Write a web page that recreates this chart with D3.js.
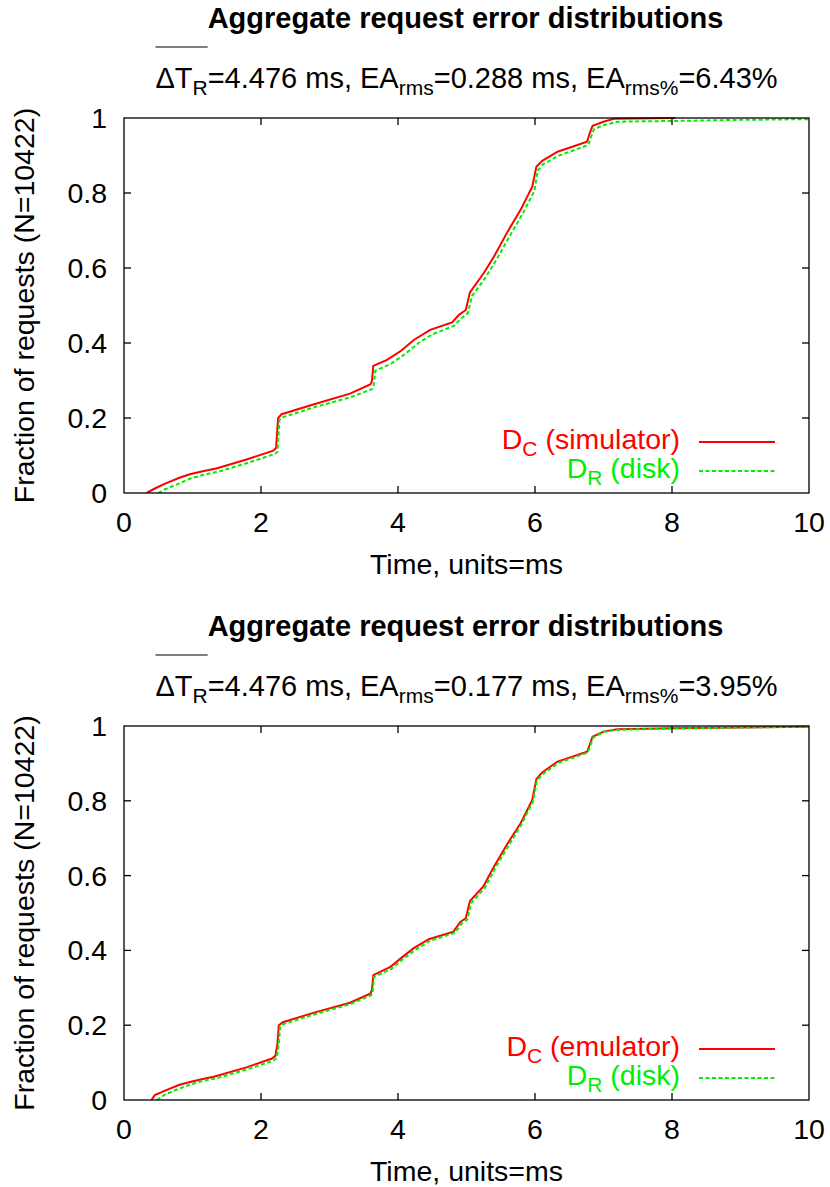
<!DOCTYPE html>
<html><head><meta charset="utf-8">
<script src="https://cdn.jsdelivr.net/npm/d3@7"></script>
<style>
body{margin:0;background:#fff;}
text{font-family:"Liberation Sans",Arial,Helvetica,sans-serif;}
</style></head>
<body><svg id="chart" width="830" height="1187"></svg>
<script>
// ---- data ----
const xTicks = [0, 2, 4, 6, 8, 10];
const yTicks = [0, 0.2, 0.4, 0.6, 0.8, 1];
const xTickLabels = ["0", "2", "4", "6", "8", "10"];
const yTickLabels = ["0", "0.2", "0.4", "0.6", "0.8", "1"];
const chartTitle = "Aggregate request error distributions";
const xAxisTitle = "Time, units=ms";
const yAxisTitle = "Fraction of requests (N=10422)";

const meanDelta = "4.476";
const topEArms = "0.288", topEArmsPct = "6.43";
const botEArms = "0.177", botEArmsPct = "3.95";

// top panel: simulator vs disk
const simX = [0.33,0.45,0.6,0.8,0.96,1.15,1.36,1.8,2.18,2.22,2.25,2.3,2.8,3.3,3.6,3.62,3.64,3.84,4.05,4.23,4.47,4.79,4.89,4.99,5.05,5.25,5.40,5.60,5.79,5.96,6.02,6.1,6.33,6.76,6.80,6.84,7.0,7.15,8.05];
const simY = [0,0.012,0.025,0.04,0.05,0.058,0.066,0.09,0.113,0.12,0.2,0.21,0.238,0.265,0.29,0.30,0.339,0.355,0.38,0.408,0.435,0.455,0.475,0.488,0.535,0.586,0.63,0.697,0.755,0.817,0.87,0.885,0.91,0.937,0.96,0.979,0.99,0.998,1.0];
const diskTopX = [0.5,0.6,0.8,0.96,1.15,1.4,1.8,2.2,2.24,2.27,2.32,2.8,3.3,3.62,3.64,3.67,3.9,4.1,4.3,4.5,4.82,4.92,5.02,5.08,5.28,5.43,5.63,5.82,5.99,6.04,6.12,6.35,6.78,6.82,6.86,7.0,7.2,7.5,8.0,9.0,10];
const diskTopY = [0,0.01,0.025,0.038,0.048,0.058,0.08,0.104,0.11,0.195,0.202,0.23,0.255,0.277,0.28,0.326,0.345,0.37,0.4,0.423,0.446,0.465,0.48,0.525,0.575,0.62,0.685,0.745,0.805,0.86,0.877,0.9,0.928,0.95,0.97,0.981,0.99,0.991,0.992,0.995,0.997];

// bottom panel: emulator vs disk
const emuX = [0.40,0.45,0.6,0.8,0.92,1.1,1.31,1.8,2.16,2.21,2.24,2.26,2.32,2.8,3.3,3.60,3.62,3.64,3.89,4.05,4.23,4.45,4.81,4.91,4.99,5.05,5.25,5.40,5.60,5.79,5.96,6.02,6.1,6.33,6.76,6.80,6.84,7.0,7.2,8.0,9.0,10];
const emuY = [0,0.013,0.025,0.04,0.046,0.054,0.062,0.088,0.111,0.118,0.15,0.2,0.208,0.235,0.26,0.285,0.295,0.334,0.356,0.38,0.406,0.43,0.45,0.476,0.486,0.532,0.572,0.624,0.686,0.74,0.802,0.858,0.875,0.905,0.931,0.95,0.971,0.985,0.991,0.994,0.996,0.998];
const diskBotX = [0.48,0.6,0.8,0.95,1.1,1.35,1.8,2.18,2.23,2.26,2.28,2.34,2.8,3.3,3.61,3.63,3.65,3.9,4.07,4.25,4.47,4.83,4.93,5.01,5.07,5.27,5.42,5.62,5.80,5.97,6.03,6.12,6.35,6.77,6.81,6.85,7.0,7.2,8.0,9.0,10];
const diskBotY = [0,0.015,0.03,0.04,0.049,0.058,0.082,0.105,0.112,0.15,0.197,0.204,0.23,0.256,0.28,0.29,0.329,0.35,0.376,0.401,0.426,0.447,0.472,0.482,0.527,0.568,0.62,0.682,0.736,0.798,0.855,0.872,0.902,0.929,0.948,0.969,0.984,0.99,0.993,0.996,0.998];

const seriesNames = ["simulator", "emulator", "disk"];

// ---- drawing ----
const svg = d3.select("#chart");
const FS = 28.5, TFS = 29, SUB = 21;
const left = 124, right = 809;

function zip(xs, ys){ return xs.map((x,i)=>({x, y: ys[i]})); }

function panel(top, bottom, eaRms, eaPct, redName, redX, redY, grnX, grnY){
  const x = d3.scaleLinear().domain([0,10]).range([left,right]);
  const y = d3.scaleLinear().domain([0,1]).range([bottom,top]);
  const g = svg.append("g");

  // title
  g.append("text").attr("x",(left+right)/2 - 1).attr("y",top-90)
    .attr("text-anchor","middle").attr("font-size",TFS).attr("font-weight","bold")
    .text(chartTitle);

  // subtitle
  const st = g.append("text").attr("x",(left+right)/2).attr("y",top-30)
    .attr("text-anchor","middle").attr("font-size",TFS);
  st.append("tspan").text("\u0394T");
  st.append("tspan").attr("font-size",SUB).attr("dy",7).text("R");
  st.append("tspan").attr("dy",-7).text("=" + meanDelta + " ms, EA");
  st.append("tspan").attr("font-size",SUB).attr("dy",7).text("rms");
  st.append("tspan").attr("dy",-7).text("=" + eaRms + " ms, EA");
  st.append("tspan").attr("font-size",SUB).attr("dy",7).text("rms%");
  st.append("tspan").attr("dy",-7).text("=" + eaPct + "%");
  const n = st.node();
  const x0 = n.getStartPositionOfChar(0).x, x1 = n.getEndPositionOfChar(2).x;
  g.append("line").attr("x1",x0).attr("x2",x1).attr("y1",top-71).attr("y2",top-71)
    .attr("stroke","#000").attr("stroke-width",1);

  // curves
  const line = d3.line().x(d=>x(d.x)).y(d=>y(d.y));
  const clip = "clip"+top;
  g.append("clipPath").attr("id",clip).append("rect")
    .attr("x",left).attr("y",top-2).attr("width",right-left).attr("height",bottom-top+2);
  g.append("path").datum(zip(redX,redY)).attr("d",line).attr("fill","none")
    .attr("stroke","#ff0000").attr("stroke-width",2).attr("clip-path",`url(#${clip})`);
  g.append("path").datum(zip(grnX,grnY)).attr("d",line).attr("fill","none")
    .attr("stroke","#00ee00").attr("stroke-width",2).attr("stroke-dasharray","4,2.5")
    .attr("clip-path",`url(#${clip})`);

  // frame + ticks (mirror, inward)
  const TL = 7;
  const ax = g.append("g").attr("stroke","#000").attr("stroke-width",1.3);
  ax.append("rect").attr("x",left).attr("y",top).attr("width",right-left).attr("height",bottom-top)
    .attr("fill","none");
  xTicks.slice(1,-1).forEach(t=>{
    ax.append("line").attr("x1",x(t)).attr("x2",x(t)).attr("y1",bottom).attr("y2",bottom-TL);
    ax.append("line").attr("x1",x(t)).attr("x2",x(t)).attr("y1",top).attr("y2",top+TL);
  });
  yTicks.slice(1,-1).forEach(t=>{
    ax.append("line").attr("x1",left).attr("x2",left+TL).attr("y1",y(t)).attr("y2",y(t));
    ax.append("line").attr("x1",right).attr("x2",right-TL).attr("y1",y(t)).attr("y2",y(t));
  });

  // tick labels
  xTicks.forEach((t,i)=>{
    g.append("text").attr("x",x(t)).attr("y",bottom+39).attr("text-anchor","middle")
      .attr("font-size",FS).text(xTickLabels[i]);
  });
  yTicks.forEach((t,i)=>{
    g.append("text").attr("x",left-17).attr("y",y(t)+10).attr("text-anchor","end")
      .attr("font-size",FS).text(yTickLabels[i]);
  });

  // axis titles
  g.append("text").attr("x",(left+right)/2).attr("y",bottom+81).attr("text-anchor","middle")
    .attr("font-size",FS).text(xAxisTitle);
  g.append("text").attr("transform",`translate(34,${(top+bottom)/2}) rotate(-90)`)
    .attr("text-anchor","middle").attr("font-size",FS).text(yAxisTitle);

  // legend
  const legend = [
    {name: redName, sub:"C", color:"#ff0000", dash:null, ly: bottom-51},
    {name: "disk", sub:"R", color:"#00ee00", dash:"4,2.5", ly: bottom-22}
  ];
  legend.forEach(L=>{
    const t = g.append("text").attr("x",680).attr("y",L.ly+7).attr("text-anchor","end")
      .attr("font-size",FS).attr("fill",L.color);
    t.append("tspan").text("D");
    t.append("tspan").attr("font-size",SUB).attr("dy",7).text(L.sub);
    t.append("tspan").attr("dy",-7).text(" (" + L.name + ")");
    g.append("line").attr("x1",699).attr("x2",775).attr("y1",L.ly).attr("y2",L.ly)
      .attr("stroke",L.color).attr("stroke-width",2).attr("stroke-dasharray",L.dash);
  });
}

panel(118, 493, topEArms, topEArmsPct, seriesNames[0], simX, simY, diskTopX, diskTopY);
panel(726, 1100, botEArms, botEArmsPct, seriesNames[1], emuX, emuY, diskBotX, diskBotY);
</script></body></html>
